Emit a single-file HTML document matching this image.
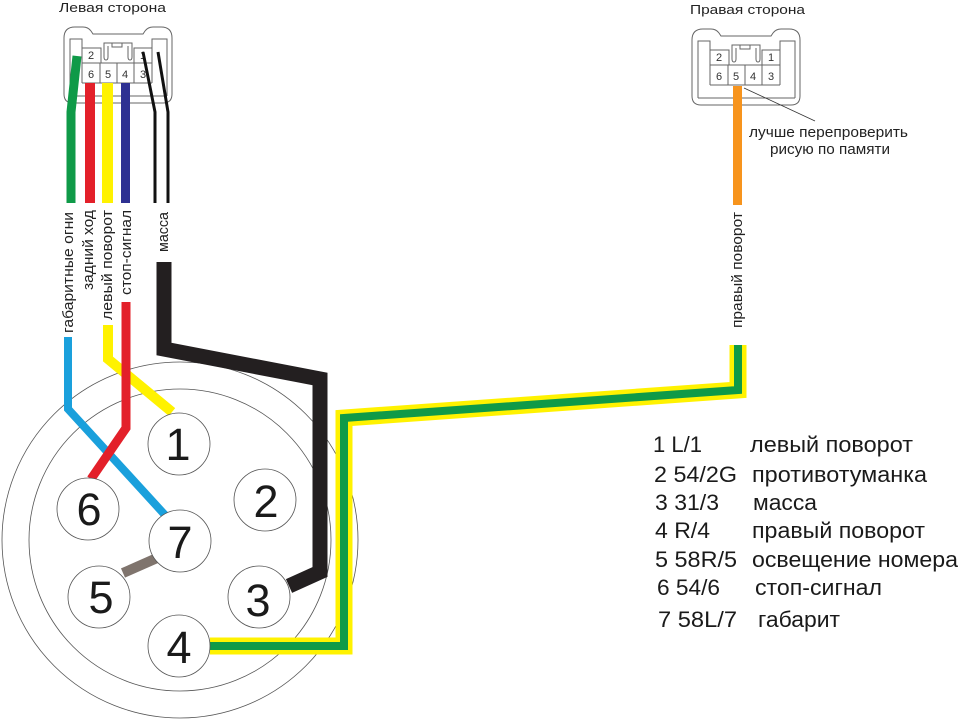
<!DOCTYPE html>
<html>
<head>
<meta charset="utf-8">
<style>
html,body{margin:0;padding:0;background:#fff;}
svg{display:block;}
text{font-family:"Liberation Sans","DejaVu Sans",sans-serif;}
</style>
</head>
<body>
<svg width="960" height="721" viewBox="0 0 960 721" xmlns="http://www.w3.org/2000/svg">
<rect width="960" height="721" fill="#fff"/>

<!-- Titles -->
<text x="59" y="12" font-size="13" fill="#222" textLength="107" lengthAdjust="spacingAndGlyphs">Левая сторона</text>
<text x="690" y="14" font-size="13" fill="#222" textLength="115" lengthAdjust="spacingAndGlyphs">Правая сторона</text>

<!-- Connector template (right) -->
<defs>
<g id="conn" fill="none" stroke="#666" stroke-width="1">
  <path d="M692,40 Q692,29 703,29 H711 Q716,29 719,33 L721,36 H771 L773,33 Q776,29 781,29 H789 Q800,29 800,40 V96 Q800,105 791,105 H701 Q692,105 692,96 Z"/>
  <path d="M698,98 V41 H710 V85"/>
  <path d="M780,85 V41 H795 V98"/>
  <path d="M698,98 H795"/>
  <path d="M710,50 H729 V65"/>
  <path d="M762,65 V50 H780"/>
  <path d="M710,65 H780 M710,85 H780 M745,65 V85 M762,65 V85 M728,65 V85"/>
  <path d="M732,50 V45 H760 V50"/>
  <path d="M732,45 V59 Q732,62 734,62 Q736,62 736,59 V48"/>
  <path d="M756,48 V59 Q756,62 758,62 Q760,62 760,59 V45"/>
  <rect x="740" y="45" width="10" height="4"/>
</g>
<g id="connnum" font-size="11" fill="#333" text-anchor="middle">
  <text x="719" y="61">2</text>
  <text x="771" y="61">1</text>
  <text x="719" y="80">6</text>
  <text x="736" y="80">5</text>
  <text x="753" y="80">4</text>
  <text x="771" y="80">3</text>
</g>
</defs>

<!-- Right connector -->
<use href="#conn"/>
<use href="#connnum"/>
<!-- Left connector -->
<g transform="translate(-628,-2)">
  <use href="#conn"/>
  <use href="#connnum"/>
</g>

<!-- Left top wires -->
<polyline points="77,56 71,112 71,203" fill="none" stroke="#0f9a48" stroke-width="9" stroke-linejoin="miter"/>
<rect x="85" y="83" width="10" height="120" fill="#e3202a"/>
<rect x="102" y="83" width="11" height="120" fill="#fff200"/>
<rect x="121" y="83" width="9" height="120" fill="#2e3192"/>
<polyline points="143,52 155,112 155,203" fill="none" stroke="#111" stroke-width="3"/>
<polyline points="158,52 168,112 168,203" fill="none" stroke="#111" stroke-width="3"/>

<!-- Right top wire -->
<rect x="733" y="86" width="9" height="119" fill="#f7941d"/>
<line x1="744" y1="88" x2="815" y2="121" stroke="#333" stroke-width="0.8"/>
<text x="749" y="137" font-size="15" fill="#222" textLength="159" lengthAdjust="spacingAndGlyphs">лучше перепроверить</text>
<text x="770" y="154" font-size="15" fill="#222" textLength="120" lengthAdjust="spacingAndGlyphs">рисую по памяти</text>

<!-- Vertical labels -->
<g font-size="15" fill="#222">
  <text transform="translate(73,333) rotate(-90)" textLength="121" lengthAdjust="spacingAndGlyphs">габаритные огни</text>
  <text transform="translate(93,290) rotate(-90)" textLength="80" lengthAdjust="spacingAndGlyphs">задний ход</text>
  <text transform="translate(112,320) rotate(-90)" textLength="110" lengthAdjust="spacingAndGlyphs">левый поворот</text>
  <text transform="translate(131,295) rotate(-90)" textLength="85" lengthAdjust="spacingAndGlyphs">стоп-сигнал</text>
  <text transform="translate(168,252) rotate(-90)" textLength="40" lengthAdjust="spacingAndGlyphs">масса</text>
  <text transform="translate(742,328) rotate(-90)" textLength="116" lengthAdjust="spacingAndGlyphs">правый поворот</text>
</g>

<!-- Big circles -->
<circle cx="180" cy="540" r="178" fill="none" stroke="#555" stroke-width="0.8"/>
<circle cx="180" cy="540" r="151" fill="none" stroke="#555" stroke-width="0.8"/>

<!-- Lower wires -->
<polyline points="164,262 164,349 320,379 320,572 289,586" fill="none" stroke="#231f20" stroke-width="15" stroke-linejoin="miter"/>
<polyline points="68,337 68,409 165,515" fill="none" stroke="#1aa0dc" stroke-width="8" stroke-linejoin="miter"/>
<polyline points="108,325 108,359 172,412" fill="none" stroke="#fff200" stroke-width="10" stroke-linejoin="miter"/>
<polyline points="126,302 126,428 91,479" fill="none" stroke="#e3202a" stroke-width="9" stroke-linejoin="miter"/>
<line x1="123" y1="573" x2="157" y2="558" stroke="#7f746d" stroke-width="10"/>
<polyline points="210,646 344,646 344,418 738,390 738,345" fill="none" stroke="#fff200" stroke-width="17" stroke-linejoin="miter"/>
<polyline points="210,646 344,646 344,418 738,390 738,345" fill="none" stroke="#0f9a48" stroke-width="8" stroke-linejoin="miter"/>

<!-- Pin circles -->
<g fill="#fff" stroke="#555" stroke-width="0.8">
  <circle cx="179" cy="444" r="31"/>
  <circle cx="265" cy="500" r="31"/>
  <circle cx="88" cy="509" r="31"/>
  <circle cx="180" cy="541" r="31"/>
  <circle cx="99" cy="597" r="31"/>
  <circle cx="259" cy="597" r="31"/>
  <circle cx="179" cy="646" r="31"/>
</g>
<g font-size="45" fill="#1a1a1a" text-anchor="middle">
  <text x="178" y="460">1</text>
  <text x="266" y="517">2</text>
  <text x="89" y="525">6</text>
  <text x="180" y="558">7</text>
  <text x="101" y="613">5</text>
  <text x="258" y="616">3</text>
  <text x="179" y="663">4</text>
</g>

<!-- Table -->
<g font-size="22.5" fill="#1a1a1a">
  <text x="653" y="452" textLength="49" lengthAdjust="spacingAndGlyphs">1 L/1</text>
  <text x="750" y="452" textLength="163" lengthAdjust="spacingAndGlyphs">левый поворот</text>
  <text x="654" y="482" textLength="83" lengthAdjust="spacingAndGlyphs">2 54/2G</text>
  <text x="752" y="482" textLength="175" lengthAdjust="spacingAndGlyphs">противотуманка</text>
  <text x="655" y="510" textLength="64" lengthAdjust="spacingAndGlyphs">3 31/3</text>
  <text x="753" y="510" textLength="64" lengthAdjust="spacingAndGlyphs">масса</text>
  <text x="655" y="538" textLength="55" lengthAdjust="spacingAndGlyphs">4 R/4</text>
  <text x="752" y="538" textLength="173" lengthAdjust="spacingAndGlyphs">правый поворот</text>
  <text x="655" y="567" textLength="82" lengthAdjust="spacingAndGlyphs">5 58R/5</text>
  <text x="752" y="567" textLength="206" lengthAdjust="spacingAndGlyphs">освещение номера</text>
  <text x="657" y="595" textLength="63" lengthAdjust="spacingAndGlyphs">6 54/6</text>
  <text x="755" y="595" textLength="127" lengthAdjust="spacingAndGlyphs">стоп-сигнал</text>
  <text x="658" y="627" textLength="79" lengthAdjust="spacingAndGlyphs">7 58L/7</text>
  <text x="758" y="627" textLength="82" lengthAdjust="spacingAndGlyphs">габарит</text>
</g>
</svg>
</body>
</html>
